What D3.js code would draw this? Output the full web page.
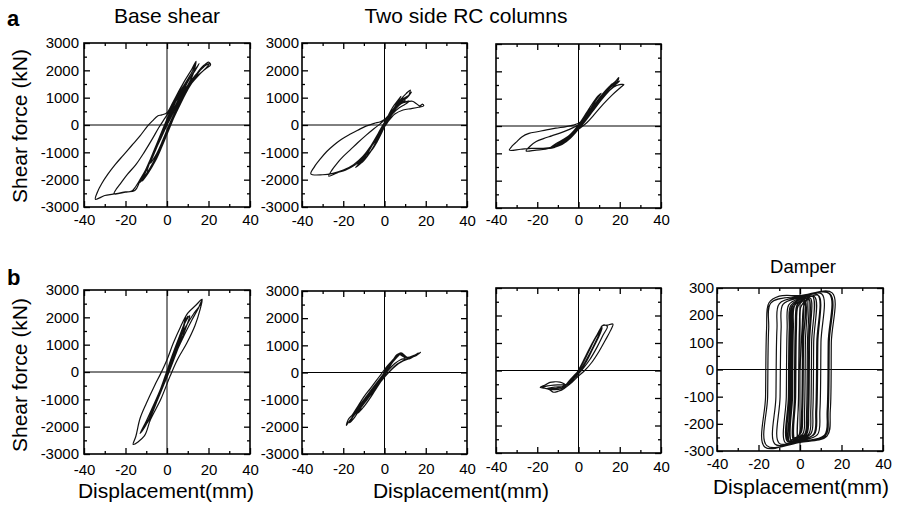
<!DOCTYPE html>
<html><head><meta charset="utf-8">
<script src="https://cdn.jsdelivr.net/npm/d3@7"></script>
<style>
body{margin:0;background:#fff}
svg{display:block}
text{font-family:"Liberation Sans",Arial,Helvetica,sans-serif;fill:#000}
</style>
</head><body>
<svg id="c" width="898" height="509"></svg>
<script>
// ---------- tick values / labels ----------
const xMajor = [-40, -20, 0, 20, 40];
const xMinor = [-30, -10, 10, 30];
const forceMajor = [-3000, -2000, -1000, 0, 1000, 2000, 3000];
const forceMinor = [-2500, -1500, -500, 500, 1500, 2500];
const damperMajor = [-300, -200, -100, 0, 100, 200, 300];
const damperMinor = [-250, -150, -50, 50, 150, 250];
const panelTitles = ["Base shear", "Two side RC columns", "Damper"];
const rowLabels = ["a", "b"];
const yTitle = "Shear force (kN)";
const xTitle = "Displacement(mm)";

// ---------- data: [displacement (mm), force (kN)] ----------
const baseShearA = [
[0,0],[3,450],[6,950],[10,1600],
[8,1400],[5,1000],[2,450],[-1,-100],[-4,-650],[-8,-1400],
[-5,-1050],[-2,-550],[1,0],[4,500],[7,1000],[10,1450],[12.5,1850],[14,2330],
[12,2050],[8,1550],[4,950],[1,400],[-2,-150],[-5,-700],[-8,-1250],[-10.5,-1700],[-12,-2050],
[-9,-1750],[-5.5,-1300],[-2.5,-800],[0.5,-250],[3.5,300],[7,850],[10,1300],[14,1800],[17.5,2150],[20,2300],[21,2200],
[18.5,2050],[14,1750],[9,1300],[5,850],[1.5,300],[-1.5,-200],[-4.5,-700],[-8,-1250],[-11,-1750],[-14,-2150],
[-11,-1900],[-7.5,-1500],[-4,-1000],[-1,-450],[2,100],[5,600],[8.5,1100],[12.5,1600],[16.5,2050],[19.5,2280],
[18,2150],[14,1850],[10,1450],[6,1000],[2.5,450],[-0.5,-50],[-3.5,-550],[-7,-1150],[-10,-1650],[-13,-2100],
[-10,-1800],[-6.5,-1350],[-3.5,-850],[-0.5,-300],[2.5,250],[5.5,750],[9,1250],[13,1750],[17,2100],[20.5,2250],
[19,2100],[15,1800],[11,1450],[7,1050],[3,500],[0,0],[-3,-500],[-6.5,-1050],[-10,-1600],[-13,-2000],[-15.5,-2300],[-17,-2420],[-20,-2460],[-25.5,-2520],
[-24.5,-2350],[-22.5,-2150],[-19,-1800],[-15,-1450],[-11,-1000],[-7,-500],[-4,-100],[-1,250],[2,600],[5,950],[9,1450],[12.5,1900],[15.5,2250],
[14,2050],[11,1700],[7,1250],[3.5,750],[0.5,200],[-2.5,-350],[-6,-950],[-9.5,-1550],[-13,-2050],[-15.5,-2400],[-20,-2450],[-26,-2530],[-30,-2580],[-34.5,-2720],
[-33.5,-2450],[-31.5,-2150],[-28.5,-1800],[-25,-1450],[-21,-1100],[-17,-750],[-13,-400],[-9.5,-50],[-7,150],[-4.5,330],[-2.5,370],[0,450],[3,850],[6.5,1350],[10,1800],[12.5,2100],[14,2280],
[12.5,2000],[9,1550],[5,1050],[1.5,450],[-1.5,-100],[-4.5,-650],[-7.5,-1200],[-9.5,-1700],
[-7,-1450],[-4,-1000],[-1,-450],[2,100],[5.5,650],[9,1150],[12.5,1650],[15.5,2000],[18,2200],
[16,2000],[12,1650],[7.5,1150],[3.5,600],[0,50],[-3,-450],[-6,-1000],[-9,-1500],[-11.5,-1950],
[-9,-1700],[-5.5,-1250],[-2.5,-700],[0.5,-150],[3.5,400],[7,950],[10,1400],[12,1700],
[10,1400],[6,900],[2,300],[0,0]
];

const leftColA = [
[0,0],[2,250],[4,500],[6,800],[8,1050],
[6.5,900],[4,650],[1.5,300],[-1,-50],[-4,-450],[-7,-850],[-9,-1100],
[-6.5,-950],[-3.5,-600],[-0.5,-150],[2,250],[5,650],[8,950],[10.5,1150],[12.5,1280],
[11.5,1050],[9,900],[6,750],[3,450],[0,100],[-3,-300],[-6.5,-750],[-10,-1150],[-13,-1450],
[-10.5,-1300],[-7,-1000],[-4,-600],[-1,-150],[2,250],[5,550],[8,780],[11,850],[13.5,870],[15.5,780],[17,700],[18.5,760],[19,700],
[16.5,650],[13,600],[9,550],[5,400],[1.5,100],[-2,-300],[-6,-750],[-10,-1150],[-14,-1450],[-19,-1650],[-23,-1750],[-27,-1870],
[-25.5,-1650],[-23,-1400],[-20,-1150],[-16.5,-900],[-13,-650],[-9,-380],[-5,-130],[-2,50],[1,250],[4,500],[7,750],[10,850],[12,870],
[10,760],[7,620],[4,420],[1,100],[-2.5,-300],[-6.5,-750],[-10.5,-1150],[-15,-1450],[-20,-1650],[-25,-1770],[-30,-1820],[-35.7,-1790],
[-34,-1530],[-31,-1230],[-28,-970],[-24.5,-730],[-21,-530],[-17,-350],[-13,-190],[-9,-40],[-5,60],[-2,120],[0,200],[3,450],[6,750],[8.5,950],[10,900],
[8,800],[5,600],[2,300],[-1,-100],[-4.5,-550],[-8,-1000],[-11.5,-1350],[-14,-1550],
[-11.5,-1400],[-8,-1100],[-5,-750],[-2,-300],[1,150],[4,500],[7,850],[9,1000],
[7.5,850],[5,650],[2,350],[-1,-50],[-4,-450],[-7.5,-900],[-10.5,-1250],[-12.5,-1450],
[-10,-1300],[-6.5,-950],[-3.5,-550],[-0.5,-100],[2.5,300],[5.5,650],[9,950],[12,1100],[13,1200],
[11,1000],[8,850],[5,600],[2,300],[0,0]
];

const rightColA = [
[0,0],[3,300],[6,650],[9,1000],[11,1200],
[9.5,1100],[7,850],[4,500],[1,150],[-2,-150],[-5,-380],[-8,-550],[-10,-650],
[-7.5,-620],[-4.5,-480],[-1.5,-250],[1.5,50],[4.5,400],[8,800],[12,1200],[15,1450],[17.5,1600],[19.5,1770],
[19,1650],[16,1450],[12,1100],[8,700],[4,300],[0.5,0],[-3,-250],[-7,-480],[-11,-650],[-14,-820],
[-11.5,-780],[-8,-680],[-4,-450],[-0.5,-150],[3,200],[7,600],[11,1000],[15,1300],[18.5,1480],[22,1520],
[20.5,1420],[16.5,1150],[12,800],[8,450],[4,120],[0,-120],[-4,-380],[-8,-580],[-12,-750],[-16,-850],[-20.5,-880],[-25.4,-915],
[-23.5,-740],[-20.5,-570],[-17,-460],[-13,-360],[-9,-260],[-5,-140],[-1.5,-20],[1.5,150],[5,500],[9,900],[13,1250],[17,1500],[20,1650],
[18.5,1550],[15,1300],[11,950],[7,550],[3,150],[-0.5,-150],[-4,-400],[-8.5,-620],[-13,-780],[-18,-820],[-23,-820],[-28,-850],[-33.5,-880],
[-32,-720],[-30,-580],[-27.5,-400],[-24,-270],[-20,-210],[-15.5,-140],[-11,-80],[-6,-20],[-2,40],[1,150],[4,450],[8,850],
[6.5,700],[4,420],[1,100],[-2,-180],[-5.5,-420],[-9,-620],[-12,-760],
[-9.5,-700],[-6,-560],[-2.5,-300],[1,50],[4.5,400],[8,750],[12,1150],[14.5,1400],[16.5,1550],
[15,1400],[12,1100],[8,700],[4,300],[0.5,0],[-3,-280],[-7,-530],[-11,-700],[-13,-780],
[-10.5,-720],[-7,-580],[-3.5,-350],[0,-50],[4,350],[8,780],[12,1150],[15.5,1450],[18,1650],
[16.5,1500],[13,1200],[9,800],[5,380],[1,50],[-2.5,-250],[-6,-500],[-10,-680],[-12,-760],
[-9,-680],[-5.5,-500],[-2,-220],[0,0]
];

const baseShearB = [
[0,0],[3,600],[6,1200],[8,1700],[9,2000],[8,1600],[6,1100],[3,500],[0,-100],
[-3,-700],[-6,-1300],[-9,-1800],[-12,-2100],[-10,-1900],[-7,-1400],[-4,-800],[-1,-200],
[2,500],[5,1100],[8,1700],[10,2050],[8.5,1800],[6,1300],[3,700],[0,50],
[-3,-600],[-7,-1300],[-10,-1800],[-13,-2250],[-11,-2050],[-8,-1600],[-5,-1000],[-2,-400],
[1,250],[5,1000],[9,1650],[13,2150],[16,2450],[17,2660],[16,2300],[13.5,1700],[9.5,1050],[5,450],[1.5,-150],
[-3,-1000],[-8,-1750],[-11,-2350],[-16.3,-2650],
[-15,-2350],[-13,-1700],[-10,-1150],[-6,-500],[-3,-50],[0,450],[3,1050],[6.5,1650],[10,2150],[14,2450],[16.8,2660],
[15.5,2400],[12,1900],[8,1300],[4,650],[0,0],
[3,700],[6,1300],[9,1850],[11,2050],[9.5,1700],[7,1200],[4,600],[1,0],
[-2,-550],[-5,-1100],[-8,-1650],[-11,-2000],[-9,-1750],[-6,-1200],[-3,-600],[0,0]
];

const leftColB = [
[0,0],[2,250],[4,450],[6,650],[7.5,700],[6.5,600],[4,400],[1,100],
[-2,-250],[-5,-600],[-8,-950],[-10.5,-1200],[-12.5,-1400],[-10.5,-1300],[-7.5,-1000],[-4.5,-650],[-1.5,-300],[1,0],
[3.5,330],[6,580],[7.5,700],[9.5,600],[12,500],[14,580],[16,660],[17.5,740],[15.5,630],[12.5,530],[9,420],[5.5,250],[2,0],
[-2,-350],[-5.5,-700],[-9,-1050],[-12.5,-1380],[-15,-1600],[-17,-1780],[-18.5,-1950],
[-17.5,-1720],[-15.5,-1550],[-13,-1250],[-10,-900],[-7,-600],[-4,-300],[-1.5,-50],[1.5,250],
[4.5,500],[6.5,680],[8,640],[10,520],[8,480],[5,330],[2,100],[-1.5,-230],
[-4.5,-550],[-8,-900],[-11.5,-1250],[-14.5,-1550],[-16.5,-1750],[-14.5,-1500],[-11.5,-1150],[-8.5,-850],[-5.5,-550],[-2.5,-250],[0.5,50],
[3.5,350],[6,600],[7.5,680],[6,560],[3,300],[0,0],
[2.5,280],[5,520],[7,700],[6,620],[3.5,400],[0.5,80],[-2.5,-330],[-5.5,-680],[-8.5,-1000],[-11.5,-1300],[-13,-1500],[-11,-1350],[-8,-1050],[-5,-700],[-2,-350],[0.5,0],
[3,300],[5.5,560],[8,720],[11,560],[14,620],[16.5,720],[14,600],[10,480],[6,300],[2.5,50],[-1.5,-300],[-5,-650],[-8.5,-1000],[-12,-1350],[-14.5,-1650],[-17,-1850],[-15,-1600],[-12,-1250],[-8.5,-900],[-5,-550],[-1.5,-200],[0,0]
];

const rightColB = [
[0,0],[2,250],[4,550],[6,850],[8,1150],[10,1400],[11.3,1610],[10.5,1400],[8,1000],[5,550],[2,150],
[-1,-150],[-3,-330],[-5.5,-480],[-7.5,-560],[-6,-520],[-3.5,-330],[-1,-100],
[2,300],[5,750],[8,1150],[10.5,1450],[11.3,1620],[14,1650],[16.7,1690],[15.5,1450],[13,1100],[10,700],[6.5,300],[3,0],[0,-200],
[-3,-420],[-6,-600],[-7.3,-670],[-6.5,-520],[-9,-420],[-11.5,-410],[-13.8,-430],[-16,-520],[-18.6,-610],
[-16.5,-640],[-14,-700],[-12.1,-790],[-10,-760],[-7.3,-670],[-5.7,-490],[-3,-250],[0,0],
[3,450],[6,900],[9,1300],[11.5,1550],[10,1250],[7,800],[4,350],[1,0],
[-2,-280],[-4.5,-470],[-8,-520],[-12,-530],[-15,-560],[-17.5,-620],[-14,-660],[-10,-640],[-6.5,-540],[-3,-300],[0,0],
[3,450],[6,900],[9,1300],[12,1650],[14,1600],[12,1300],[9,850],[5.5,400],[2,50],[-1,-200],[-4,-420],[-7,-580],[-11,-600],[-15,-650],[-12,-700],[-8,-650],[-5,-450],[-2,-200],[0,0]
];

const damperB = [
[0,0],[1,150],[2,240],[4,262],
[3.6,100],[3.2,-150],[2.5,-235],[0,-255],[-3,-262],
[-2.6,-100],[-2.2,150],[-1.5,235],[1,255],[3,265],
[2.6,100],[2.2,-150],[1.5,-235],[-2,-255],[-5,-265],
[-4.6,-100],[-4.2,150],[-3.5,235],[0,258],[6,270],
[5.6,100],[5.2,-150],[4.4,-235],[0,-255],[-7,-270],
[-6.6,-100],[-6.2,150],[-5.4,238],[0,262],[8.5,275],
[8.1,100],[7.6,-150],[6.6,-238],[0,-260],[-10,-272],
[-9.6,-100],[-9.1,150],[-8.2,240],[0,265],[10.5,278],
[10.1,100],[9.6,-150],[8.4,-240],[0,-262],[-12,-275],
[-11.6,-100],[-11.1,150],[-10,242],[0,268],[14,280],
[13.6,100],[13.1,-150],[11.8,-242],[0,-265],[-17,-285],
[-16.6,-100],[-16.1,150],[-15,245],[-10,270],[0,272],[15.5,282],
[15.1,100],[14.6,-150],[13,-245],[0,-268],[-16,-280],
[-15.6,-100],[-15.1,150],[-14,245],[0,270],[14.5,278],
[14.1,100],[13.6,-150],[12.2,-245],[0,-262],[-4,-266],
[-3.6,-100],[-3.2,150],[-2.4,238],[3,262],[9,272],
[8.6,100],[8.1,-150],[7,-238],[0,-258],[-1,-260],
[-0.6,-100],[-0.2,150],[0.6,235],[5,262],
[4.6,100],[4.2,-150],[3.4,-235],[0,-255],[-6,-265],
[-5.6,-100],[-5.2,150],[-4.4,236],[2,258],
[1.6,100],[1.2,-150],[0.4,-232],[-2,-250],[-3,-252],
[-2.7,-100],[-2.3,150],[-1.6,235],[0,250],[2,255],
[1.7,100],[1.3,-150],[0.6,-232],[-2,-250],[-4.5,-258],
[-4.1,-100],[-3.7,150],[-3,232],[0,252],[7,268],
[6.6,100],[6.2,-150],[5.3,-236],[0,-256],[-2.5,-258],
[-2.1,-100],[-1.7,150],[-1,232],[1,250],[1.5,252],
[1.2,100],[0.8,-150],[0,-230],[-1,-245],
[-0.7,-100],[-0.3,150],[0.4,230],[2.5,250],[4.5,258],
[4.2,100],[3.8,-150],[3,-232],[0,-250],[-5.5,-262],
[-5.1,-100],[-4.7,150],[-4,232],[0,250],[1,252]
];

// ---------- layout ----------
const svg = d3.select("#c");
const panels = [
  {id:"a1", data:baseShearA, x0:84,  x1:250, y0:43,  y1:207, ydom:[-3000,3000], yMaj:forceMajor, yMin:forceMinor, yLab:true,  xPad:7,  yPad:5},
  {id:"a2", data:leftColA,   x0:302, x1:467, y0:43,  y1:207, ydom:[-3000,3000], yMaj:forceMajor, yMin:forceMinor, yLab:true,  xPad:8,  yPad:3},
  {id:"a3", data:rightColA,  x0:496, x1:661, y0:44,  y1:208, ydom:[-3000,3000], yMaj:forceMajor, yMin:forceMinor, yLab:false, xPad:6,  yPad:3},
  {id:"b1", data:baseShearB, x0:84,  x1:250, y0:290, y1:454, ydom:[-3000,3000], yMaj:forceMajor, yMin:forceMinor, yLab:true,  xPad:10, yPad:5},
  {id:"b2", data:leftColB,   x0:302, x1:467, y0:291, y1:454, ydom:[-3000,3000], yMaj:forceMajor, yMin:forceMinor, yLab:true,  xPad:9,  yPad:3},
  {id:"b3", data:rightColB,  x0:496, x1:661, y0:288, y1:453, ydom:[-3000,3000], yMaj:forceMajor, yMin:forceMinor, yLab:false, xPad:8.5,yPad:3},
  {id:"b4", data:damperB,    x0:717, x1:883, y0:288, y1:451, ydom:[-300,300],   yMaj:damperMajor, yMin:damperMinor, yLab:true, xPad:7.5, yPad:3}
];

const FONT = '"Liberation Sans",Arial,Helvetica,sans-serif';
const defs = svg.append("defs");

function styleAxis(g, size){
  g.select(".domain").remove();
  g.selectAll(".tick line").attr("stroke","#000").attr("stroke-width",1.3);
  g.attr("font-family", FONT).attr("font-size", size);
  g.selectAll("text").attr("fill","#000");
}

panels.forEach(p => {
  const x = d3.scaleLinear().domain([-40,40]).range([p.x0,p.x1]);
  const y = d3.scaleLinear().domain(p.ydom).range([p.y1,p.y0]);
  const g = svg.append("g");

  defs.append("clipPath").attr("id","clip-"+p.id)
    .append("rect").attr("x",p.x0).attr("y",p.y0).attr("width",p.x1-p.x0).attr("height",p.y1-p.y0);

  // zero lines
  g.append("line").attr("x1",x(0)).attr("x2",x(0)).attr("y1",p.y0).attr("y2",p.y1)
    .attr("stroke","#000").attr("stroke-width",1);
  g.append("line").attr("x1",p.x0).attr("x2",p.x1).attr("y1",y(0)).attr("y2",y(0))
    .attr("stroke","#000").attr("stroke-width",1);

  // hysteresis curve
  const line = d3.line().x(d=>x(d[0])).y(d=>y(d[1])).curve(d3.curveCatmullRom.alpha(0.5));
  g.append("path").datum(p.data).attr("clip-path","url(#clip-"+p.id+")")
    .attr("d",line).attr("fill","none").attr("stroke","#111").attr("stroke-width",1.2)
    .attr("stroke-linejoin","round");

  // axes (inward ticks on all sides)
  const fmt = d => String(d);
  g.append("g").attr("transform",`translate(0,${p.y1})`)
    .call(d3.axisBottom(x).tickValues(xMajor).tickSizeInner(-6).tickSizeOuter(0).tickPadding(p.xPad).tickFormat(fmt))
    .call(a=>styleAxis(a,15));
  g.append("g").attr("transform",`translate(0,${p.y1})`)
    .call(d3.axisBottom(x).tickValues(xMinor).tickSizeInner(-3).tickSizeOuter(0).tickFormat(""))
    .call(a=>styleAxis(a,15));
  g.append("g").attr("transform",`translate(0,${p.y0})`)
    .call(d3.axisTop(x).tickValues(xMajor).tickSizeInner(-6).tickSizeOuter(0).tickFormat(""))
    .call(a=>styleAxis(a,15));
  g.append("g").attr("transform",`translate(0,${p.y0})`)
    .call(d3.axisTop(x).tickValues(xMinor).tickSizeInner(-3).tickSizeOuter(0).tickFormat(""))
    .call(a=>styleAxis(a,15));
  g.append("g").attr("transform",`translate(${p.x0},0)`)
    .call(d3.axisLeft(y).tickValues(p.yMaj).tickSizeInner(-6).tickSizeOuter(0).tickPadding(p.yPad).tickFormat(p.yLab?fmt:""))
    .call(a=>styleAxis(a,15));
  g.append("g").attr("transform",`translate(${p.x0},0)`)
    .call(d3.axisLeft(y).tickValues(p.yMin).tickSizeInner(-3).tickSizeOuter(0).tickFormat(""))
    .call(a=>styleAxis(a,15));
  g.append("g").attr("transform",`translate(${p.x1},0)`)
    .call(d3.axisRight(y).tickValues(p.yMaj).tickSizeInner(-6).tickSizeOuter(0).tickFormat(""))
    .call(a=>styleAxis(a,15));
  g.append("g").attr("transform",`translate(${p.x1},0)`)
    .call(d3.axisRight(y).tickValues(p.yMin).tickSizeInner(-3).tickSizeOuter(0).tickFormat(""))
    .call(a=>styleAxis(a,15));

  // frame
  g.append("rect").attr("x",p.x0).attr("y",p.y0).attr("width",p.x1-p.x0).attr("height",p.y1-p.y0)
    .attr("fill","none").attr("stroke","#000").attr("stroke-width",1.6);
});

// ---------- texts ----------
svg.append("text").attr("x",7).attr("y",25.5).attr("font-size",22).attr("font-weight","bold").text(rowLabels[0]);
svg.append("text").attr("x",7).attr("y",285).attr("font-size",22).attr("font-weight","bold").text(rowLabels[1]);

svg.append("text").attr("x",167).attr("y",23).attr("text-anchor","middle").attr("font-size",21).text(panelTitles[0]);
svg.append("text").attr("x",466).attr("y",23).attr("text-anchor","middle").attr("font-size",21).text(panelTitles[1]);
svg.append("text").attr("x",803).attr("y",273).attr("text-anchor","middle").attr("font-size",18.5).text(panelTitles[2]);

[126, 375].forEach(cy => {
  svg.append("text").attr("transform",`translate(27,${cy}) rotate(-90)`)
    .attr("text-anchor","middle").attr("font-size",21).text(yTitle);
});

[[166,498],[461,498],[801,494]].forEach(([cx,by]) => {
  svg.append("text").attr("x",cx).attr("y",by).attr("text-anchor","middle").attr("font-size",21).text(xTitle);
});
</script>
</body></html>
